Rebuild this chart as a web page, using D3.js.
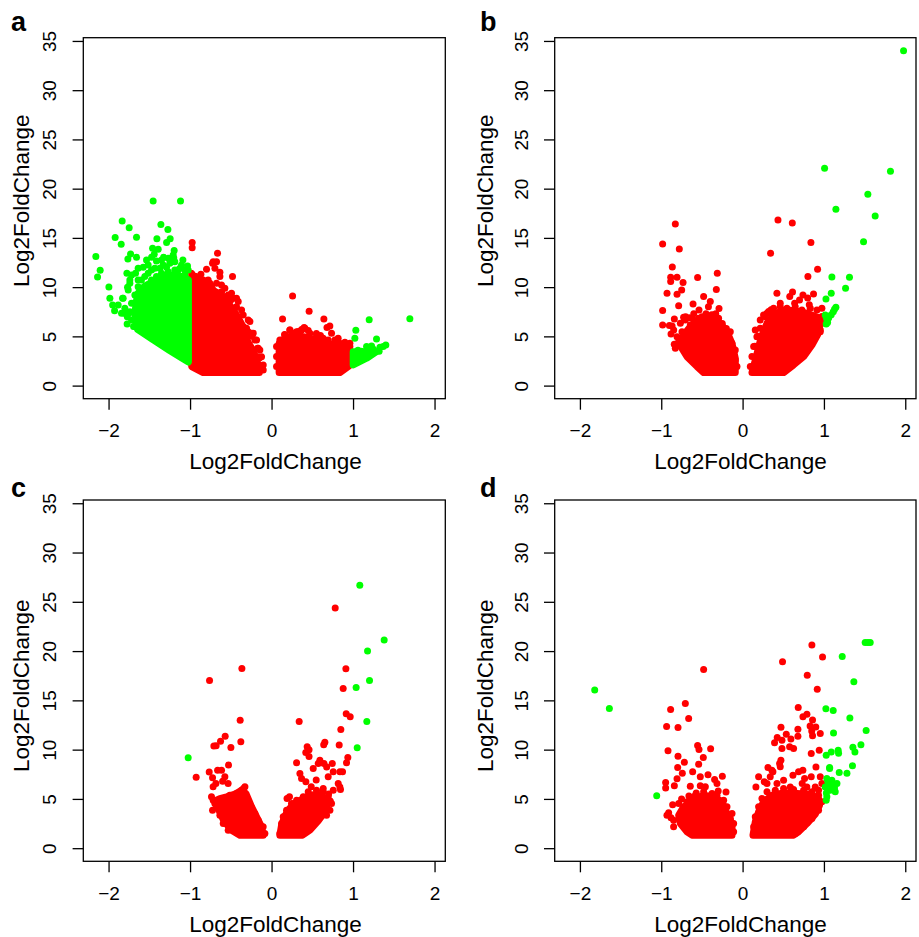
<!DOCTYPE html>
<html>
<head>
<meta charset="utf-8">
<script src="https://cdn.jsdelivr.net/npm/d3@7"></script>
<style>
  html, body { margin: 0; padding: 0; background: #fff; }
  svg { display: block; }
  text { font-family: "Liberation Sans", Arial, Helvetica, sans-serif; fill: #000; }
</style>
</head>
<body>
<svg id="fig" width="919" height="937"></svg>
<script>
// ---- Axis ticks shared by all four volcano plots ----
const xTicks = [-2, -1, 0, 1, 2];
const xTickLabels = ["\u22122", "\u22121", "0", "1", "2"];
const yTicks = [0, 5, 10, 15, 20, 25, 30, 35];
const axisTitle = "Log2FoldChange";
const panelLetters = ["a", "b", "c", "d"];

// ---- Panel a ----
// dense clouds, given as outlines of dot centres [log2FC, value]
const aRedClouds = [
  [[-0.98,1.93],[-0.98,11.4],[-0.94,10.9],[-0.859,10.5],[-0.757,9.79],[-0.663,9.44],[-0.573,8.93],[-0.499,8.02],[-0.43,7.18],[-0.368,6.26],[-0.328,5.25],[-0.287,4.37],[-0.226,3.55],[-0.184,2.61],[-0.15,1.8],[-0.15,1.32],[-0.839,1.32]],
  [[0.093,1.32],[0.093,4.3],[0.184,4.91],[0.286,5.15],[0.388,4.98],[0.552,4.64],[0.715,4.23],[0.879,3.96],[0.952,3.8],[0.952,2.0],[0.838,1.32]]
];
const aGreenClouds = [
  [[-1.645,5.72],[-1.452,4.64],[-1.26,3.62],[-1.096,2.78],[-1.02,2.4],[-1.02,10.73],[-1.084,11.07],[-1.187,11.2],[-1.309,11.2],[-1.411,10.73],[-1.493,10.39],[-1.563,10.05],[-1.637,9.38],[-1.657,8.63],[-1.677,7.35],[-1.657,5.99]],
  [[1.002,3.45],[1.002,2.1],[1.166,2.78],[1.288,3.45]]
];
const aRedPoints = [
  [-0.974,14.52],[-0.974,14.01],[-0.663,13.44],[-0.716,12.59],[-0.675,12.59],[-0.798,11.82],[-0.634,11.51],[-0.479,11.07],[-0.867,11.3],[-0.928,11.07],[-0.839,10.73],[-0.736,10.12],[-0.614,10.22],[-0.54,9.04],[-0.5,8.7],[-0.43,8.02],[-0.368,7.69],[-0.266,6.5],[-0.389,6.5],[-0.287,5.48],[-0.24,5.0],[-0.172,3.8],[-0.15,2.8],
  [-0.724,12.42],[-0.695,11.91],[-0.634,11.07],[-0.757,10.39],[-0.879,10.73],[-0.941,11.07],[-0.838,10.05],[-0.716,9.71],[-0.613,9.54],[-0.532,9.2],[-0.47,8.87],[-0.409,8.53],[-0.45,7.85],[-0.348,7.17],[-0.286,6.67],[-0.307,5.82],[-0.225,5.31],[-0.184,4.64],[-0.164,3.79],[-0.123,2.94],[-0.102,2.1],[-0.102,1.59],
  [-0.778,10.73],[-0.675,10.39],[-0.573,9.88],[-0.491,9.37],[-0.43,8.87],[-0.41,7.0],[-0.348,5.99],[-0.246,5.31],[-0.205,4.64],[-0.144,3.62],[-0.164,2.94],[-0.123,1.93],
  [0.258,9.11],[0.135,6.77],[0.461,7.55],[0.642,6.77],[0.715,6.06],[0.68,5.9],[0.736,5.32],[0.817,4.81],[0.961,4.3],[0.225,5.65],[0.33,5.5],[0.37,5.7],[0.27,5.3],[0.55,5.3],[0.6,5.1],[0.45,5.6],[0.16,5.2],[0.12,4.6],[0.4,5.9],[0.9,4.4],
  [0.102,4.64],[0.163,5.15],[0.225,5.65],[0.306,5.48],[0.368,5.65],[0.409,5.82],[0.47,5.31],[0.552,4.98],[0.633,4.81],[0.695,4.64],[0.777,4.64],[0.838,4.3],[0.899,4.13],[0.061,3.96],[0.061,2.95],[0.061,1.94],[0.961,3.96]
];
const aGreenPoints = [
  [-1.453,18.75],[-1.117,18.75],[-1.833,16.72],[-1.747,16.04],[-1.358,16.35],[-1.272,15.84],[-1.919,15.03],[-1.657,15.07],[-1.845,14.36],[-1.407,14.92],[-1.244,14.92],[-2.156,13.1],[-2.103,11.71],[-2.135,11.04],[-1.996,10.02],[-1.984,8.87],[-1.926,7.61],[-1.95,8.19],[-1.828,8.87],[-1.767,9.99],[-1.763,12.86],[-1.73,13.37],[-1.657,13.03],[-1.46,13.95],[-1.44,13.34],[-1.391,13.85],[-1.325,13.03],[-1.288,14.52],[-1.195,13.71],[-1.2,12.97],[-1.088,12.76],[-1.031,12.15],[-1.775,11.41],[-1.739,10.73],[-1.808,7.35],[-1.77,7.0],[-1.772,6.26],[-1.693,5.99],
  [-1.759,9.71],[-1.821,8.87],[-1.882,8.19],[-1.8,7.85],[-1.751,7.34],[-1.677,6.67],[-1.575,12.01],[-1.514,12.25],[-1.473,11.74],[-1.371,11.91],[-1.289,12.01],[-1.187,12.59],[-1.268,12.93],[-1.35,12.76],[-1.412,12.66],[-1.473,13.03],[-1.534,12.76],[-1.637,11.91],[-1.669,11.4],[-1.718,11.24],[-1.739,10.39],[-1.637,10.73],[-1.555,11.07],[-1.105,12.25],[-1.064,11.74],[-1.146,11.74],[-1.207,13.27],[-1.841,7.34],
  [-1.473,10.73],[-1.412,11.07],[-1.35,11.4],[-1.268,11.57],[-1.187,11.74],[-1.125,11.91],[-1.064,11.24],[-1.023,11.74],[-1.248,12.42],[-1.33,12.25],[-1.432,11.91],[-1.514,11.4],[-1.596,10.73],[-1.637,10.05],[-1.677,9.2],[-1.718,8.36],[-1.739,7.51],[-1.718,6.67],[-1.677,5.99],
  [1.198,6.7],[1.697,6.8],[1.034,5.62],[1.022,4.81],[1.288,4.74],[1.402,4.13],[1.37,3.96],[1.166,3.96],[1.227,4.03],[1.06,3.6],[1.1,3.5],[1.25,3.7],[1.33,3.9],[1.32,3.5],[1.05,3.1]
];

// ---- Panel b ----
const bRedClouds = [
  [[-0.765,4.03],[-0.683,2.94],[-0.56,1.93],[-0.479,1.32],[-0.09,1.32],[-0.09,2.78],[-0.131,4.3],[-0.192,5.48],[-0.295,6.5],[-0.437,6.74],[-0.56,6.5],[-0.643,5.99],[-0.725,5.15]],
  [[0.115,1.32],[0.168,2.94],[0.209,4.3],[0.25,5.32],[0.3,6.33],[0.381,7.18],[0.484,7.62],[0.627,7.62],[0.791,7.35],[0.922,6.94],[0.947,5.82],[0.922,5.15],[0.853,4.13],[0.75,2.94],[0.627,2.1],[0.504,1.32]]
];
const bGreenClouds = [];
const bRedPoints = [
  [-0.827,16.42],[-0.983,14.39],[-0.778,13.88],[-0.864,12.05],[-0.884,11.0],[-0.806,11.0],[-0.884,10.56],[-0.732,10.46],[-0.749,9.72],[-0.553,10.97],[-0.311,11.41],[-0.323,9.75],[-0.929,9.38],[-0.806,9.28],[-0.479,9.04],[-0.397,8.53],[-0.786,8.12],[-0.983,7.62],[-0.609,8.29],[-0.536,7.69],[-0.29,7.82],[-0.839,6.77],[-0.983,6.16],[-0.867,6.06],[-0.88,5.25],[-0.725,6.94],[-0.151,5.48],[-0.9,6.1],[-0.7,7.0],[-0.65,6.9],[-0.45,7.3],[-0.38,7.2],[-0.33,7.3],[-0.25,6.3],[-0.2,5.8],[-0.8,4.3],[-0.84,4.2],[-0.76,4.6],[-0.13,3.6],[-0.12,2.5],[-0.42,8.0],[-0.6,7.3],[-0.5,7.0],
  [-0.765,6.33],[-0.704,6.67],[-0.643,6.16],[-0.602,6.67],[-0.54,6.84],[-0.479,6.67],[-0.418,7.01],[-0.356,7.18],[-0.295,6.84],[-0.254,6.16],[-0.213,5.65],[-0.184,4.97],[-0.131,4.3],[-0.09,3.62],[-0.09,2.6],[-0.069,1.93],[-0.806,4.97],[-0.786,4.3],[-0.827,3.79],[-0.847,5.65],[-0.745,5.48],
  [0.435,16.82],[0.611,16.52],[0.84,14.52],[0.344,13.44],[0.922,11.82],[0.803,11.07],[0.422,9.38],[0.614,9.51],[0.58,9.06],[0.742,9.21],[0.872,9.31],[0.463,8.36],[0.64,8.36],[0.57,7.69],[0.3,7.35],[0.914,7.69],[0.975,7.86],[0.84,7.0],[0.217,5.82],[0.955,5.65],[0.27,7.0],[0.7,8.7],[0.8,8.9],[0.35,7.7],[0.19,5.0],[0.15,4.0],[0.96,6.3],[0.99,6.8],[0.82,8.2],
  [0.156,5.65],[0.176,4.97],[0.136,3.96],[0.115,2.95],[0.095,1.93],[0.217,6.67],[0.258,7.18],[0.32,7.52],[0.381,7.86],[0.463,8.02],[0.545,7.86],[0.647,8.02],[0.729,7.69],[0.832,7.86],[0.975,7.01],[0.975,6.33],[0.955,5.48]
];
const bGreenPoints = [
  [1.008,22.07],[1.818,21.76],[1.979,34.01],[1.54,19.43],[1.63,17.23],[1.147,17.91],[1.487,14.62],[1.098,11.04],[1.314,11.0],[1.266,9.89],[1.09,9.38],[1.025,8.8],[1.147,7.96],[1.13,7.75],[1.115,7.5],[1.09,7.2],[1.016,7.18],[1.028,6.26],[1.04,6.6],[1.06,6.9],[1.03,6.9],[1.045,6.4]
];

// ---- Panel c ----
const cRedClouds = [
  [[-0.675,4.87],[-0.643,3.79],[-0.585,2.77],[-0.491,1.83],[-0.389,1.32],[-0.103,1.32],[-0.123,2.17],[-0.184,3.18],[-0.245,4.19],[-0.315,5.55],[-0.368,5.89],[-0.45,5.48],[-0.552,5.21],[-0.634,5.04]],
  [[0.102,1.32],[0.123,2.34],[0.163,3.25],[0.212,3.93],[0.274,4.53],[0.368,4.94],[0.47,5.38],[0.572,5.48],[0.654,4.94],[0.683,4.37],[0.654,3.69],[0.572,2.77],[0.47,1.83],[0.38,1.32]]
];
const cGreenClouds = [];
const cRedPoints = [
  [0.781,24.37],[0.912,18.2],[0.879,16.21],[0.916,13.64],[0.965,13.33],[0.85,12.05],[0.83,10.46],[0.936,9.21],[0.92,8.68],[0.871,7.75],[0.339,12.86],
  [-0.364,18.24],[-0.761,17.02],[-0.385,12.99],[-0.377,10.79],[-0.569,11.37],[-0.626,10.86],[-0.708,10.36],[-0.68,10.4],[-0.499,10.22],[-0.528,8.43],[-0.925,7.21],[-0.765,7.72],[-0.724,7.14],[-0.662,7.92],[-0.614,7.92],[-0.573,7.24],[-0.533,6.57],[-0.717,6.23],[-0.737,5.21],[-0.696,4.54],[-0.724,3.86],[-0.34,5.45],[-0.344,6.06],[-0.683,6.57],[-0.6,6.8],
  [-0.716,4.87],[-0.675,4.2],[-0.634,3.35],[-0.593,2.5],[-0.532,1.83],[-0.368,5.89],[-0.327,6.23],[-0.307,4.87],[-0.266,4.2],[-0.205,3.52],[-0.164,2.84],[-0.103,2.17],[-0.082,1.49],[-0.43,5.55],[-0.512,5.38],[-0.593,4.87],
  [0.654,10.76],[0.64,10.5],[0.437,10.29],[0.46,10.0],[0.46,9.3],[0.42,9.7],[0.307,8.66],[0.348,7.58],[0.368,7.07],[0.421,6.73],[0.511,8.08],[0.573,8.59],[0.593,8.93],[0.643,8.59],[0.676,8.25],[0.745,8.59],[0.757,7.75],[0.839,7.75],[0.818,6.57],[0.695,7.24],[0.548,6.91],[0.487,6.23],[0.634,6.06],[0.757,5.89],[0.19,5.04],[0.22,5.21],[0.838,6.22],[0.846,5.96],[0.72,4.8],[0.7,5.5],
  [0.102,1.49],[0.123,2.5],[0.143,3.18],[0.184,3.86],[0.245,4.54],[0.307,4.87],[0.389,5.21],[0.45,5.72],[0.552,5.89],[0.634,5.72],[0.695,5.21],[0.736,4.54],[0.716,3.86],[0.675,3.35]
];
const cGreenPoints = [
  [1.083,26.67],[1.382,21.12],[1.178,20.0],[1.202,17.02],[1.038,16.31],[1.169,12.86],[1.051,10.18],[-1.023,9.17]
];

// ---- Panel d ----
const dRedClouds = [
  [[-0.765,2.5],[-0.683,1.66],[-0.622,1.32],[-0.13,1.32],[-0.13,2.5],[-0.192,3.52],[-0.253,4.7],[-0.356,5.21],[-0.479,5.38],[-0.602,4.94],[-0.725,4.19],[-0.786,3.35]],
  [[0.128,1.32],[0.156,2.67],[0.197,3.69],[0.258,4.7],[0.361,5.38],[0.504,5.62],[0.668,5.55],[0.832,5.48],[0.934,5.04],[0.946,4.37],[0.893,3.45],[0.791,2.5],[0.688,1.66],[0.627,1.32]]
];
const dGreenClouds = [];
const dRedPoints = [
  [-0.479,18.14],[-0.704,14.69],[-0.885,14.08],[-0.663,13.17],[-0.934,12.35],[-0.794,12.25],[-0.917,9.88],[-0.553,10.43],[-0.536,10.02],[-0.393,10.08],[-0.794,9.34],[-0.483,9.21],[-0.716,8.73],[-0.54,8.53],[-0.798,8.19],[-0.741,7.61],[-0.806,7.04],[-0.614,7.75],[-0.52,7.24],[-0.425,7.44],[-0.344,6.97],[-0.249,7.31],[-0.946,6.67],[-0.946,6.12],[-0.839,6.33],[-0.643,6.29],[-0.52,6.33],[-0.458,6.23],[-0.315,6.57],[-0.204,5.69],[-0.909,3.59],[-0.848,2.84],[-0.786,4.53],[-0.683,4.7],[-0.622,4.87],[-0.66,3.7],[-0.93,3.35],[-0.88,3.1],[-0.86,4.4],[-0.57,5.6],[-0.3,5.8],[-0.33,5.4],[-0.15,3.0],[-0.14,2.0],[-0.66,5.3],[-0.75,5.0],
  [-0.765,3.18],[-0.704,2.34],[-0.581,5.38],[-0.479,5.72],[-0.376,5.55],[-0.315,5.38],[-0.233,4.87],[-0.192,4.2],[-0.13,3.52],[-0.11,2.5],[-0.11,1.66],[-0.683,4.2],[-0.745,3.69],[-0.848,2.17],
  [0.852,20.61],[0.983,19.39],[0.491,18.91],[0.795,17.56],[0.918,16.14],[0.684,14.28],[0.791,13.6],[0.742,13.33],[0.86,13.0],[0.83,12.4],[0.85,11.9],[0.9,12.3],[0.86,11.4],[0.68,12.08],[0.68,11.37],[0.472,12.28],[0.426,11.24],[0.594,11.07],[0.955,11.64],[0.942,9.95],[0.844,9.61],[0.197,7.24],[0.164,6.22],[0.902,8.25],
  [0.537,11.57],[0.484,10.96],[0.393,10.69],[0.484,10.12],[0.578,10.29],[0.627,10.12],[0.471,8.93],[0.455,8.6],[0.463,8.26],[0.741,7.92],[0.688,7.75],[0.619,7.41],[0.312,8.19],[0.36,7.92],[0.34,7.24],[0.373,7.75],[0.267,6.73],[0.3,6.56],[0.844,7.24],[0.762,7.07],[0.733,6.56],[0.504,6.9],[0.423,6.56],[0.586,6.22],[0.79,6.22],[0.893,6.22],[0.934,5.89],[0.975,6.56],[0.955,7.24],
  [0.136,2.17],[0.156,3.18],[0.197,4.2],[0.238,5.04],[0.3,5.72],[0.402,5.89],[0.504,6.06],[0.627,5.96],[0.75,5.89],[0.852,5.72],[0.934,5.38],[0.975,4.7],[0.934,3.86],[0.852,3.01],[0.75,2.17],[0.647,1.49]
];
const dGreenPoints = [
  [1.507,20.88],[1.54,20.88],[1.569,20.88],[1.225,19.46],[1.368,16.88],[1.024,14.14],[1.114,13.98],[1.319,13.2],[1.519,11.95],[1.118,11.68],[1.356,10.25],[1.381,9.75],[1.455,10.49],[1.175,9.95],[1.18,9.64],[1.09,9.75],[1.028,9.44],[1.07,8.09],[1.07,8.2],[1.351,8.36],[1.188,7.69],[1.283,7.61],
  [1.036,7.07],[1.098,6.9],[1.16,6.56],[1.016,6.22],[1.077,5.89],[1.139,5.72],[1.036,5.21],[1.028,4.87],[1.1,6.3],[1.06,6.5],[1.03,5.6],[1.13,6.1],[1.05,6.7],
  [-1.818,16.04],[-1.638,14.18],[-1.056,5.31]
];

// ---- Layout ----
const RED = "#FF0000", GREEN = "#00FF00";
const DOT_R = 3.5;
const xDomain = [-2.31, 2.132];
const yDomain = [-1.33, 35.33];
const columns = [
  { x0: 83.3, x1: 445.3, yTitleX: 29.3, xTitleCx: 275.5, letterX: 11 },
  { x0: 554.7, x1: 916, yTitleX: 493.3, xTitleCx: 740.5, letterX: 480 }
];
const rows = [
  { y0: 37.7, y1: 398.7, yTitleCy: 200.8, letterY: 30.7 },
  { y0: 500, y1: 861.3, yTitleCy: 685.8, letterY: 496.7 }
];
const panels = [
  { red: aRedClouds, green: aGreenClouds, redPts: aRedPoints, greenPts: aGreenPoints },
  { red: bRedClouds, green: bGreenClouds, redPts: bRedPoints, greenPts: bGreenPoints },
  { red: cRedClouds, green: cGreenClouds, redPts: cRedPoints, greenPts: cGreenPoints },
  { red: dRedClouds, green: dGreenClouds, redPts: dRedPoints, greenPts: dGreenPoints }
];

const svg = d3.select("#fig");

panels.forEach((p, i) => {
  const col = columns[i % 2], row = rows[Math.floor(i / 2)];
  const x = d3.scaleLinear().domain(xDomain).range([col.x0, col.x1]);
  const y = d3.scaleLinear().domain(yDomain).range([row.y1, row.y0]);
  const g = svg.append("g");

  const clip = "clip" + i;
  svg.append("clipPath").attr("id", clip)
    .append("rect").attr("x", col.x0).attr("y", row.y0)
    .attr("width", col.x1 - col.x0).attr("height", row.y1 - row.y0);

  const plot = g.append("g").attr("clip-path", `url(#${clip})`);
  const outline = d3.line().x(d => x(d[0])).y(d => y(d[1])).curve(d3.curveLinearClosed);

  const drawClouds = (clouds, color) => plot.selectAll(null).data(clouds).enter()
    .append("path").attr("d", outline)
    .attr("fill", color).attr("stroke", color)
    .attr("stroke-width", DOT_R * 2).attr("stroke-linejoin", "round");
  const drawPoints = (pts, color) => plot.selectAll(null).data(pts).enter()
    .append("circle").attr("cx", d => x(d[0])).attr("cy", d => y(d[1]))
    .attr("r", DOT_R).attr("fill", color);

  drawClouds(p.red, RED);
  drawPoints(p.redPts, RED);
  drawClouds(p.green, GREEN);
  drawPoints(p.greenPts, GREEN);

  // frame
  g.append("rect").attr("x", col.x0).attr("y", row.y0)
    .attr("width", col.x1 - col.x0).attr("height", row.y1 - row.y0)
    .attr("fill", "none").attr("stroke", "#000").attr("stroke-width", 1.3);

  // x axis
  const xAxis = d3.axisBottom(x).tickValues(xTicks).tickSize(11).tickPadding(0)
    .tickFormat((d, k) => xTickLabels[k]);
  const xa = g.append("g").attr("transform", `translate(0,${row.y1})`).call(xAxis);
  xa.select(".domain").remove();
  xa.selectAll(".tick line").attr("stroke", "#000").attr("stroke-width", 1.3);
  xa.selectAll(".tick text").attr("y", 38.3).attr("dy", null)
    .attr("font-size", 19).attr("font-family", null).attr("fill", "#000");

  // y axis
  const yAxis = d3.axisLeft(y).tickValues(yTicks).tickSize(10.7).tickPadding(0);
  const ya = g.append("g").attr("transform", `translate(${col.x0},0)`).call(yAxis);
  ya.select(".domain").remove();
  ya.selectAll(".tick line").attr("stroke", "#000").attr("stroke-width", 1.3);
  ya.selectAll(".tick text")
    .attr("x", null).attr("dy", null)
    .attr("transform", "translate(-27,0) rotate(-90)")
    .attr("text-anchor", "middle").attr("font-size", 19)
    .attr("font-family", null).attr("fill", "#000");

  // titles
  g.append("text").attr("x", col.xTitleCx).attr("y", row.y1 + 70.4)
    .attr("text-anchor", "middle").attr("font-size", 22.5).text(axisTitle);
  g.append("text")
    .attr("transform", `translate(${col.yTitleX},${row.yTitleCy}) rotate(-90)`)
    .attr("text-anchor", "middle").attr("font-size", 22.5).text(axisTitle);

  // panel letter
  g.append("text").attr("x", col.letterX).attr("y", row.letterY)
    .attr("font-size", 27).attr("font-weight", "bold").text(panelLetters[i]);
});
</script>
</body>
</html>
